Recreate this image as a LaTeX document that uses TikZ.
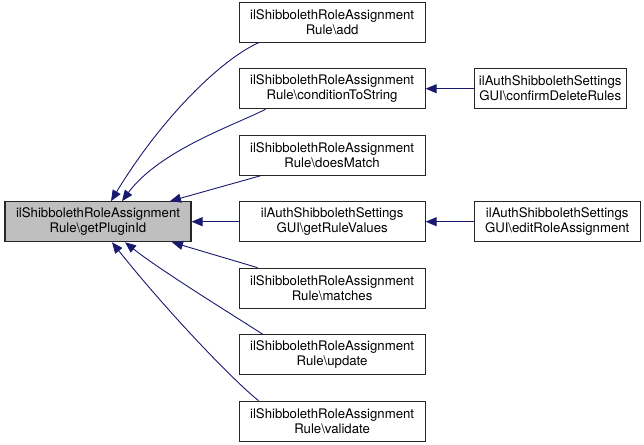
\documentclass[tikz,border=0pt]{standalone}
\usepackage{fontspec}
\setmainfont{TeX Gyre Heros}
\usepackage{xcolor}
\usepackage{tikz}
\usetikzlibrary{positioning,arrows.meta}
\definecolor{edgeblue}{HTML}{191970}
\definecolor{boxgray}{HTML}{BFBFBF}
\newcommand{\bs}{\textbackslash{}}

\begin{document}
\begin{tikzpicture}[x=1pt,y=-1pt,
    fn/.style={draw=black!85,line width=1.1pt,align=center,inner xsep=4pt,
        inner ysep=0pt,minimum width=186pt,minimum height=40pt,
        font=\fontsize{13.2}{15}\selectfont},
    call/.style={draw=edgeblue,line width=0.9pt,
        {Triangle[length=11pt,width=9pt,fill=edgeblue]}-},
    node distance=25.4pt and 47pt]
            \useasboundingbox (0,0) rectangle (644,444);
            \node[fn,fill=boxgray] (get) at (98,221.7) {ilShibbolethRoleAssignment\\Rule\bs getPluginId} ;
            \node[fn,right=of get] (getRuleValues) {ilAuthShibbolethSettings\\GUI\bs getRuleValues} ;
            \node[fn,above=of getRuleValues] (doesMatch) {ilShibbolethRoleAssignment\\Rule\bs doesMatch} ;
            \node[fn,above=of doesMatch] (conditionToString) {ilShibbolethRoleAssignment\\Rule\bs conditionToString} ;
            \node[fn,above=of conditionToString] (add) {ilShibbolethRoleAssignment\\Rule\bs add} ;
            \node[fn,below=of getRuleValues] (matches) {ilShibbolethRoleAssignment\\Rule\bs matches} ;
            \node[fn,below=of matches] (update) {ilShibbolethRoleAssignment\\Rule\bs update} ;
            \node[fn,below=of update] (validate) {ilShibbolethRoleAssignment\\Rule\bs validate} ;
            \node[fn,minimum width=152pt,right=48pt of conditionToString] (confirmDeleteRules) {ilAuthShibbolethSettings\\GUI\bs confirmDeleteRules} ;
            \node[fn,minimum width=166pt,right=48pt of getRuleValues] (editRoleAssignment) {ilAuthShibbolethSettings\\GUI\bs editRoleAssignment} ;
            % callers of getPluginId
            \draw[call] ([xshift=13pt]get.north) .. controls (160,120) and (220,60) .. ([xshift=20pt]add.south west) ;
            \draw[call] ([xshift=24pt]get.north) .. controls (160,150) and (235,125) .. ([xshift=27pt]conditionToString.south west) ;
            \draw[call] ([xshift=72pt]get.north) -- ([xshift=22pt]doesMatch.south west) ;
            \draw[call] (get) -- (getRuleValues) ;
            \draw[call] ([xshift=74pt]get.south) -- ([xshift=19pt]matches.north west) ;
            \draw[call] ([xshift=27pt]get.south) .. controls (160,270) and (225,310) .. ([xshift=24pt]update.north west) ;
            \draw[call] ([xshift=14pt]get.south) .. controls (170,315) and (235,382) .. ([xshift=20pt]validate.north west) ;
            % second level
            \draw[call] (conditionToString) -- (confirmDeleteRules) ;
            \draw[call] (getRuleValues) -- (editRoleAssignment) ;
        \end{tikzpicture}
\end{document}
